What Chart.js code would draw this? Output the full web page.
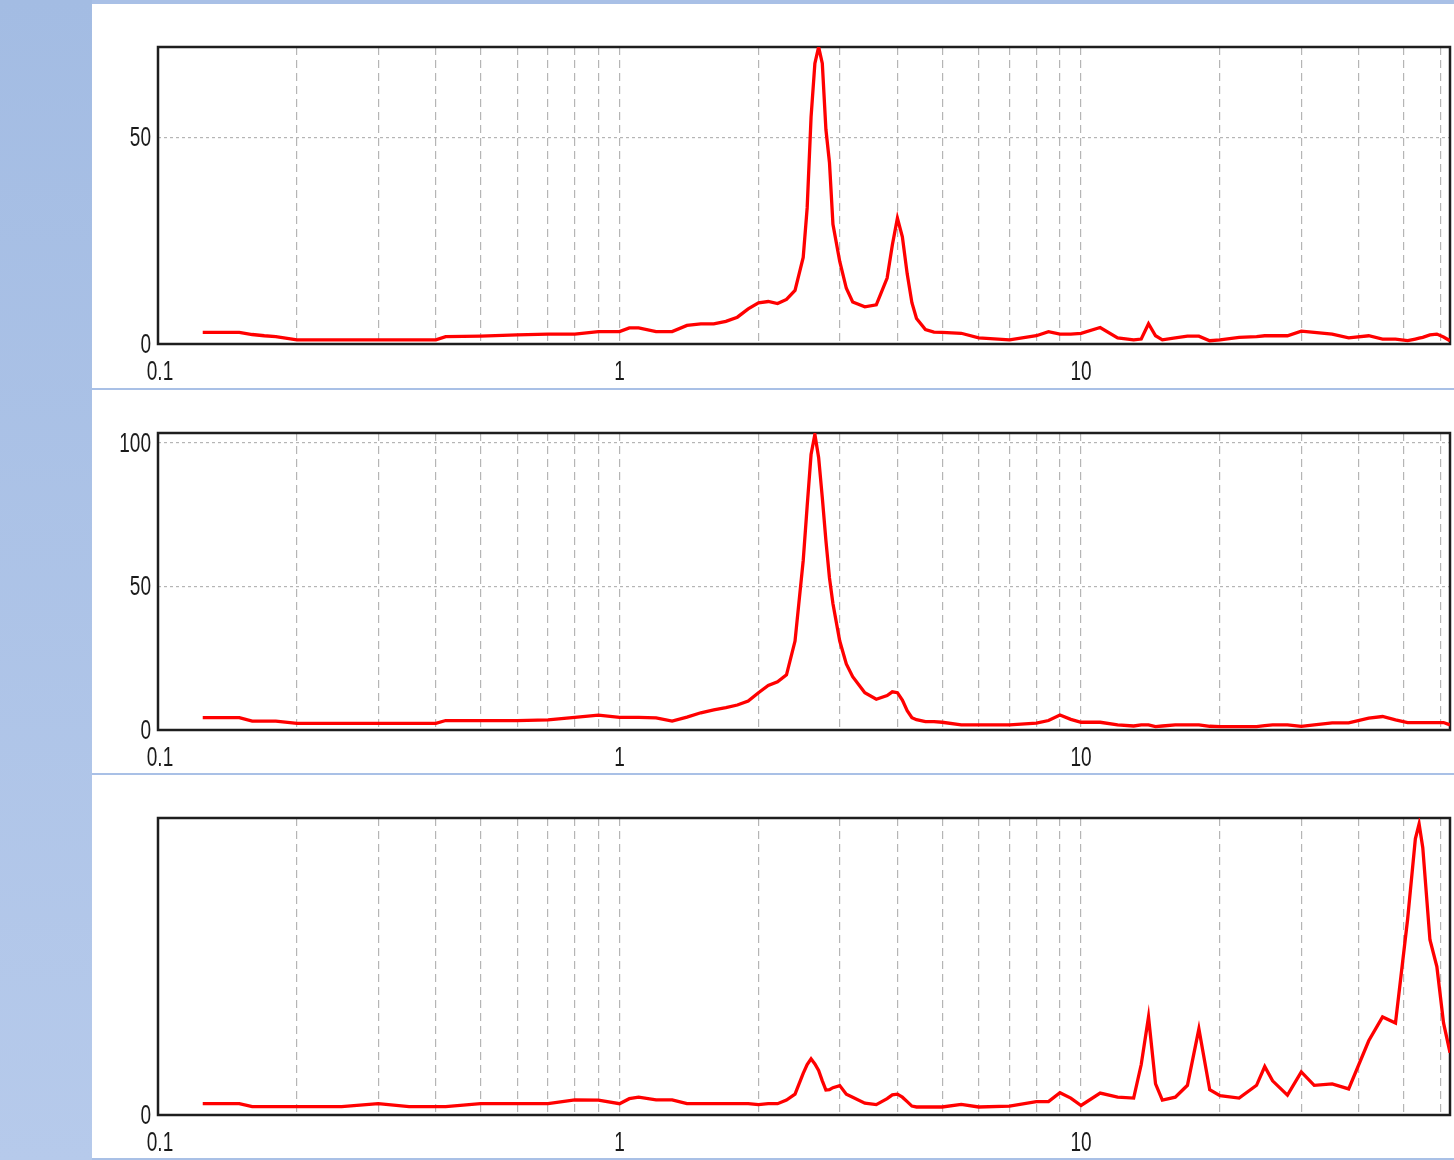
<!DOCTYPE html>
<html>
<head>
<meta charset="utf-8">
<script src="https://cdn.jsdelivr.net/npm/chart.js@4.4.0/dist/chart.umd.min.js"></script>
<style>
body{margin:0;width:1454px;height:1160px;background:#fff;position:relative;overflow:hidden}
#side{position:absolute;left:0;top:0;width:92px;height:1160px;background:linear-gradient(#a3bce3,#b6caeb)}
.bar{position:absolute;left:92px;width:1362px;background:#a9c0e6}
.panel{position:absolute;left:92px;width:1362px}
</style>
</head>
<body>
<div id="side"></div>
<div class="bar" style="top:0;height:4px"></div>
<div class="bar" style="top:388px;height:2px"></div>
<div class="bar" style="top:773px;height:2px"></div>
<div class="bar" style="top:1158px;height:2px"></div>
<div class="panel" style="top:4px;height:384px"><canvas id="c1"></canvas></div>
<div class="panel" style="top:390px;height:383px"><canvas id="c2"></canvas></div>
<div class="panel" style="top:775px;height:383px"><canvas id="c3"></canvas></div>
<script>
var sizes = [0.125,0.14,0.15,0.16,0.17,0.18,0.2,0.25,0.3,0.35,0.4,0.42,0.5,0.6,0.7,0.8,0.9,1.0,1.05,1.1,1.2,1.3,1.4,1.5,
  1.6,1.7,1.8,1.9,2.0,2.1,2.2,2.3,2.4,2.5,2.55,2.6,2.65,2.7,2.75,2.8,2.85,2.9,3.0,3.1,3.2,3.4,3.6,3.8,3.9,4.0,
  4.1,4.2,4.3,4.4,4.6,4.8,5.0,5.5,6,7,8,8.5,9,9.5,10,11,12,13,13.5,14,14.5,15,16,17,18,19,20,22,24,25,26,28,30,
  32,35,38,42,45,48,51,53,54,55,57,59,61,63];

var sample1 = [2.8,2.8,2.8,2.3,2.0,1.8,1.0,1.0,1.0,1.0,1.0,1.8,1.9,2.2,2.4,2.4,3.0,3.0,3.9,3.9,3.0,3.0,4.5,4.9,
  4.9,5.5,6.5,8.5,10.0,10.3,9.8,10.8,13.0,21,33,55,68,72,68,52,44,29,20,13.5,10.2,9,9.5,16,24,30.5,
  26,17,10,6.2,3.5,2.9,2.8,2.6,1.5,1.0,2.0,3.0,2.4,2.4,2.6,4.0,1.5,1.0,1.2,4.9,2.0,1.0,1.5,1.9,1.9,0.8,1.0,1.6,1.8,2.0,2.0,2.0,3.1,
  2.8,2.4,1.5,2.0,1.2,1.2,0.8,1.2,1.4,1.6,2.2,2.4,1.7,0.8];

var sample2 = [4.3,4.3,4.3,3.1,3.1,3.1,2.3,2.3,2.3,2.3,2.3,3.3,3.3,3.3,3.5,4.4,5.2,4.4,4.4,4.4,4.2,3.1,4.5,6.0,
  7.0,7.8,8.7,10.1,13.0,15.5,16.8,19.2,31,59,78,96,103,95,81,66,53,44,31,23,18.6,13,10.7,12,13.3,13,
  10.4,6.7,4.3,3.6,2.9,2.9,2.7,1.8,1.8,1.8,2.4,3.3,5.2,3.7,2.7,2.7,1.8,1.4,1.8,1.8,1.2,1.4,1.8,1.8,1.8,1.3,1.2,1.2,1.2,1.5,1.8,1.8,1.3,
  1.8,2.5,2.5,4.1,4.7,3.5,2.6,2.6,2.6,2.6,2.6,2.6,2.6,1.8];

var sample3 = [3.8,3.8,3.8,2.8,2.8,2.8,2.8,2.8,3.8,2.8,2.8,2.8,3.8,3.8,3.8,5.1,5.0,3.8,5.5,6.0,5.1,5.1,3.8,3.8,
  3.8,3.8,3.8,3.8,3.5,3.8,3.8,5.0,7.0,14,17,18.9,17.2,15,11.5,8.4,8.5,9.2,9.9,7.0,6.0,4.0,3.5,5.5,6.8,7.0,
  6.0,4.5,3.0,2.7,2.7,2.7,2.7,3.6,2.7,3.0,4.5,4.5,7.5,5.7,3.2,7.4,6.0,5.7,17,33,10.5,5.0,6.0,10,29,8.5,6.5,5.7,10,16.3,11.5,6.7,14.5,
  10,10.5,8.8,25,33,31,66,93,98,90,59,50,31,21];

var xTicks = [0.1,0.2,0.3,0.4,0.5,0.6,0.7,0.8,0.9,1,2,3,4,5,6,7,8,9,10,20,30,40,50,60];
var xLabels = ['0.1', '1', '10'];

// frame around the plot area, drawn under the curve
var frame = {
  id:'frame',
  beforeDatasetsDraw: function(chart){
    var a = chart.chartArea, ctx = chart.ctx;
    ctx.save();
    ctx.strokeStyle = '#1e1e1e';
    ctx.lineWidth = 2.5;
    ctx.strokeRect(a.left, a.top, a.right - a.left, a.bottom - a.top);
    ctx.restore();
  }
};

// narrow tick labels (the original uses a condensed font)
function narrowText(ctx, txt, x, y, align){
  ctx.save();
  ctx.translate(x, y);
  ctx.scale(0.68, 1);
  ctx.textAlign = align;
  ctx.fillText(txt, 0, 0);
  ctx.restore();
}

var labels = {
  id:'labels',
  afterDraw: function(chart, args, opts){
    var ctx = chart.ctx, xs = chart.scales.x, ys = chart.scales.y;
    ctx.save();
    ctx.fillStyle = '#1a1a1a';
    ctx.font = "28px 'Liberation Sans', Arial, sans-serif";
    ctx.textBaseline = 'middle';
    xLabels.forEach(function(l){
      narrowText(ctx, l, xs.getPixelForValue(Number(l)) + (l === '0.1' ? 2 : 0), xs.top + 28, 'center');
    });
    opts.yLabels.forEach(function(v){
      narrowText(ctx, String(v), ys.left + ys.width - 7, ys.getPixelForValue(v) + 1, 'right');
    });
    ctx.restore();
  }
};

function makePanel(id, values, yMax, yTicks, axisH){
  var pts = sizes.map(function(s, i){ return {x:s, y:values[i]}; });
  return new Chart(document.getElementById(id), {
    type:'line',
    data:{datasets:[{data:pts, borderColor:'#ff0000', borderWidth:3.3, pointRadius:0, tension:0, fill:false}]},
    options:{
      responsive:true,
      maintainAspectRatio:false,
      animation:false,
      layout:{padding:{top:43, right:4, left:0, bottom:0}},
      plugins:{legend:{display:false}, tooltip:{enabled:false}, labels:{yLabels:yTicks}},
      scales:{
        x:{
          type:'logarithmic', min:0.1, max:63,
          afterBuildTicks:function(s){ s.ticks = xTicks.map(function(v){ return {value:v}; }); },
          afterFit:function(s){ s.height = axisH; },
          ticks:{display:false},
          grid:{color:'#b5b5b5', lineWidth:1.2, drawTicks:false},
          border:{display:false, dash:[8,5]}
        },
        y:{
          min:0, max:yMax,
          afterBuildTicks:function(s){ s.ticks = yTicks.map(function(v){ return {value:v}; }); },
          afterFit:function(s){ s.width = 66; },
          ticks:{display:false},
          grid:{color:'#b5b5b5', lineWidth:1.2, drawTicks:false},
          border:{display:false, dash:[3,3]}
        }
      }
    },
    plugins:[frame, labels]
  });
}

makePanel('c1', sample1, 72, [0,50], 44);
makePanel('c2', sample2, 103.5, [0,50,100], 43);
makePanel('c3', sample3, 100, [0], 43);
</script>
</body>
</html>
